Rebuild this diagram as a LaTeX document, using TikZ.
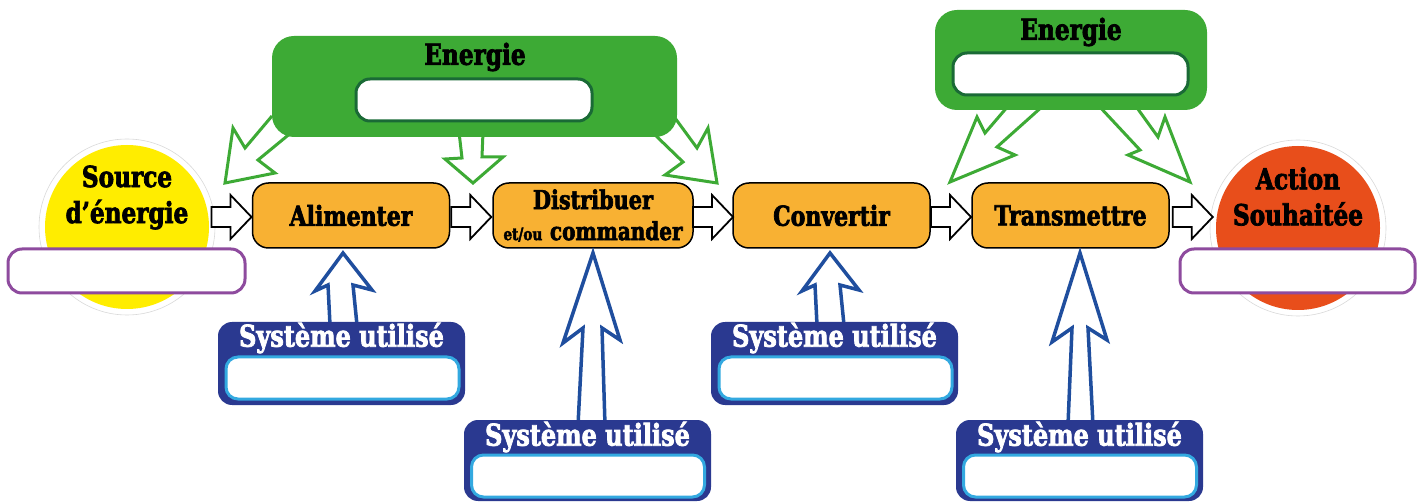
\documentclass[tikz,border=0pt]{standalone}
\usepackage{fontspec}
\newfontfamily\lbl{DejaVu Serif}[FakeStretch=0.8, BoldFeatures={FakeBold=2.5}]
\usetikzlibrary{calc}
\definecolor{yellowc}{HTML}{FFED00}
\definecolor{redc}{HTML}{E84E1B}
\definecolor{purplec}{HTML}{8E4B9E}
\definecolor{orangec}{HTML}{F8B133}
\definecolor{greenc}{HTML}{3DAA35}
\definecolor{dgreenc}{HTML}{1A6A36}
\definecolor{blueboxc}{HTML}{2A3990}
\definecolor{lbluec}{HTML}{33A9E0}
\definecolor{barrowc}{HTML}{1F4E9E}
\tikzset{
  ring/.style={circle, draw=black!15, line width=0.6pt, fill=white, minimum size=176, inner sep=0},
  disc/.style={circle, minimum size=164, inner sep=0},
  ctext/.style={font=\lbl\bfseries\fontsize{29}{36}\selectfont, align=center, text=black},
  purplebox/.style={draw=purplec, line width=3pt, fill=white, rounded corners=14, minimum height=44, inner sep=0},
  fbox/.style={draw=black, line width=1.5pt, fill=orangec, rounded corners=16, minimum width=197, minimum height=65, inner sep=1, align=center, font=\lbl\bfseries\fontsize{27.5}{33}\selectfont},
  warrow/.style={draw=black, line width=1.8pt, fill=white, line join=miter},
  gbox/.style={fill=greenc, rounded corners=22, inner sep=0},
  gin/.style={draw=dgreenc, line width=3pt, fill=white, rounded corners=14, minimum height=42, inner sep=0},
  gtext/.style={font=\lbl\bfseries\fontsize{29}{30}\selectfont},
  garrow/.style={draw=greenc, line width=3pt, fill=white, line join=miter},
  barrow/.style={draw=barrowc, line width=3.5pt, fill=white, line join=miter},
  sysbox/.style={fill=blueboxc, rounded corners=14, minimum width=247, inner sep=0},
  sysin/.style={draw=lbluec, line width=3pt, fill=white, rounded corners=12, minimum width=233, minimum height=42, inner sep=0},
  systext/.style={font=\lbl\bfseries\fontsize{30}{30}\selectfont, text=white},
}
% block arrow pointing right, centred on a named coordinate
\newcommand\flowarr[1]{%
  \draw[warrow] (#1) ++(-20,-10) -- ++(19,0) -- ++(0,-12) -- ++(21,22) -- ++(-21,22) -- ++(0,-12) -- ++(-19,0) -- cycle;}
\begin{document}
\begin{tikzpicture}[x=1pt, y=-1pt]
\useasboundingbox (0,0) rectangle (1424,502);

% ---- circles
\node[ring] (srcring) at (127,227) {};
\node[disc, fill=yellowc] (src) at (127,227) {};
\node[ctext] (srct) at (127,197.5) {Source\\d’énergie};
\node[purplebox, minimum width=237] (srcbox) at (126.5,271) {};

\node[ring] (actring) at (1298,228) {};
\node[disc, fill=redc] (act) at (1298,228) {};
\node[ctext] (actt) at (1298,196.5) {Action\\Souhaitée};
\node[purplebox, minimum width=235] (actbox) at (1297.5,271) {};

% ---- function boxes
\node[fbox] (alim) at (351,215.5) {Alimenter};
\node[fbox, minimum width=200] (dist) at (593,215.5) {{\fontsize{26}{26}\selectfont Distribuer}\\[-2pt]{\fontsize{17}{17}\selectfont et/ou} {\fontsize{25}{25}\selectfont commander}};
\node[fbox] (conv) at (831.5,215.5) {Convertir};
\node[fbox] (trans) at (1070.5,215.5) {Transmettre};

% ---- flow arrows
\coordinate (c1) at ($(src.east|-alim.west)!0.5!(alim.west)+(1,1.5)$);
\coordinate (c2) at ($(alim.east)!0.5!(dist.west)+(0,1.5)$);
\coordinate (c3) at ($(dist.east)!0.5!(conv.west)+(0,1.5)$);
\coordinate (c4) at ($(conv.east)!0.5!(trans.west)+(0,1.5)$);
\coordinate (c5) at ($(trans.east)!0.5!(act.west|-trans.east)+(0,1.5)$);
\flowarr{c1}\flowarr{c2}\flowarr{c3}\flowarr{c4}\flowarr{c5}

% ---- energy arrows (box 1)
\draw[garrow] (272,116) -- (245,148) -- (233,128) -- (225,183) -- (275,173) -- (258,160) -- (292,132);
\draw[garrow] (459,132) -- (462,158) -- (445,159) -- (473,183) -- (503,157) -- (482,157) -- (483,132);
\draw[garrow] (652,132) -- (683,162) -- (665,175) -- (717,183) -- (708,128) -- (697,148) -- (675,118);
% ---- energy arrows (box 2)
\draw[garrow] (1009,105) -- (985,133) -- (977,117) -- (950,182) -- (1015,155) -- (997,147) -- (1044,105);
\draw[garrow] (1098,105) -- (1140,150) -- (1128,155) -- (1190,182) -- (1165,117) -- (1158,137) -- (1135,105);

% ---- energy boxes
\node[gbox, minimum width=405, minimum height=101] (en1) at (474.5,86.5) {};
\node[gtext] (en1t) at (475,57) {Energie};
\node[gin, minimum width=236] (en1in) at (474,100) {};

\node[gbox, minimum width=272, minimum height=100] (en2) at (1071,60) {};
\node[gtext] (en2t) at (1071,32) {Energie};
\node[gin, minimum width=235] (en2in) at (1070.5,74) {};

% ---- system arrows
\draw[barrow] (330,325) -- (328,285) -- (315,291) -- (343,253) -- (372,290) -- (353,285) -- (357,325);
\draw[barrow] (578,425) -- (583,328) -- (563,343) -- (593,253) -- (620,340) -- (602,328) -- (605,425);
\begin{scope}[xshift=487pt]
\draw[barrow] (330,325) -- (328,285) -- (315,291) -- (343,253) -- (372,290) -- (353,285) -- (357,325);
\end{scope}
\draw[barrow] (1068,425) -- (1072,328) -- (1052,342) -- (1080,253) -- (1107,340) -- (1088,328) -- (1093,425);

% ---- system boxes
\node[sysbox, minimum height=83] (sys1) at (341.5,363.5) {};
\node[systext] (sys1t) at (341.5,338) {Système utilisé};
\node[sysin] (sys1in) at (342.5,378) {};

\node[sysbox, minimum height=81] (sys2) at (587.5,460.5) {};
\node[systext] (sys2t) at (587.5,437) {Système utilisé};
\node[sysin] (sys2in) at (588,476) {};

\node[sysbox, minimum height=83] (sys3) at (834.5,363.5) {};
\node[systext] (sys3t) at (834.5,338) {Système utilisé};
\node[sysin] (sys3in) at (835.5,378) {};

\node[sysbox, minimum height=81] (sys4) at (1079.5,460.5) {};
\node[systext] (sys4t) at (1079.5,437) {Système utilisé};
\node[sysin] (sys4in) at (1080,476) {};
\end{tikzpicture}
\end{document}
